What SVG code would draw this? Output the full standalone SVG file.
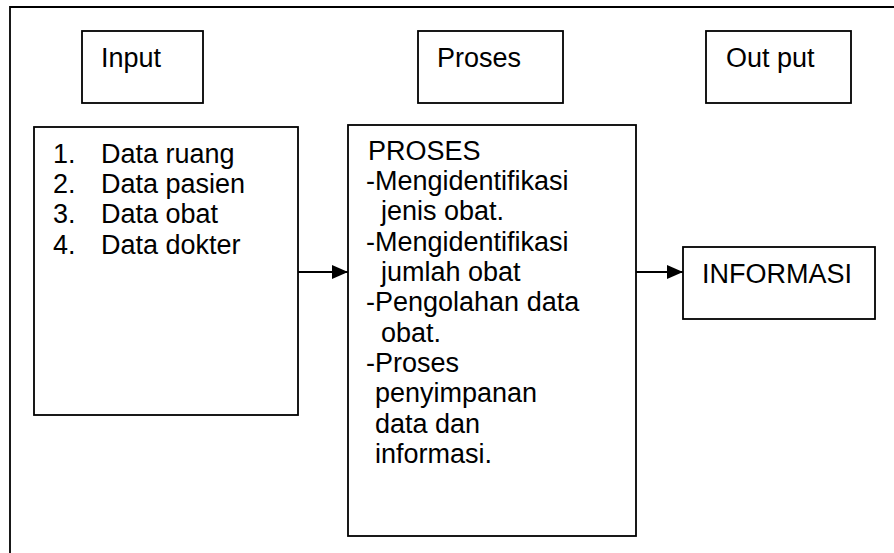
<svg xmlns="http://www.w3.org/2000/svg" width="894" height="553" viewBox="0 0 894 553">
<defs>
<style>
.box{fill:#fff;stroke:#000;stroke-width:1.8}
.frame{fill:none;stroke:#000;stroke-width:1.8}
.t{font-family:"Liberation Sans",Arial,sans-serif;font-size:27px;fill:#000}
.conn{stroke:#000;stroke-width:1.8;fill:none}
</style>
<marker id="ah" markerUnits="userSpaceOnUse" markerWidth="16" markerHeight="14" refX="16" refY="7" orient="auto">
<polygon points="0,0 16,7 0,14" fill="#000"/>
</marker>
</defs>
<rect width="894" height="553" fill="#fff"/>
<path class="frame" d="M10,553 V7 H894"/>
<g id="input-header">
<rect class="box" x="82" y="31" width="121" height="72"/>
<text class="t" x="101" y="67">Input</text>
</g>
<g id="proses-header">
<rect class="box" x="418" y="31" width="145" height="72"/>
<text class="t" x="437" y="67">Proses</text>
</g>
<g id="output-header">
<rect class="box" x="706" y="31" width="145" height="72"/>
<text class="t" x="726" y="67">Out put</text>
</g>
<g id="input-list">
<rect class="box" x="34" y="127" width="264" height="288"/>
<text class="t" x="53" y="163">1.</text><text class="t" x="101" y="163">Data ruang</text>
<text class="t" x="53" y="193">2.</text><text class="t" x="101" y="193">Data pasien</text>
<text class="t" x="53" y="223">3.</text><text class="t" x="101" y="223">Data obat</text>
<text class="t" x="53" y="254">4.</text><text class="t" x="101" y="254">Data dokter</text>
</g>
<g id="proses-box">
<rect class="box" x="348" y="125" width="288" height="411"/>
<text class="t" x="368" y="160">PROSES</text>
<text class="t" x="366" y="190">-Mengidentifikasi</text>
<text class="t" x="381" y="220">jenis obat.</text>
<text class="t" x="366" y="251">-Mengidentifikasi</text>
<text class="t" x="381" y="281">jumlah obat</text>
<text class="t" x="366" y="311">-Pengolahan data</text>
<text class="t" x="381" y="342">obat.</text>
<text class="t" x="366" y="372">-Proses</text>
<text class="t" x="375" y="402">penyimpanan</text>
<text class="t" x="375" y="433">data dan</text>
<text class="t" x="375" y="463">informasi.</text>
</g>
<g id="informasi">
<rect class="box" x="683" y="247" width="192" height="72"/>
<text class="t" x="702" y="283">INFORMASI</text>
</g>
<g id="connectors">
<line class="conn" x1="298" y1="272" x2="348" y2="272" marker-end="url(#ah)"/>
<line class="conn" x1="636" y1="272" x2="683" y2="272" marker-end="url(#ah)"/>
</g>
</svg>
